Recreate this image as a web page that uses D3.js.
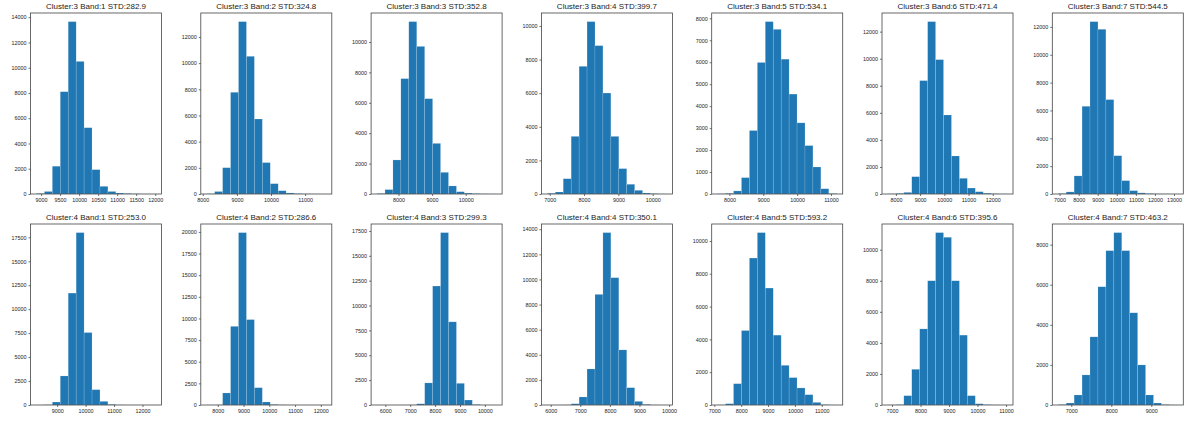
<!DOCTYPE html>
<meta charset="utf-8">
<script src="https://d3js.org/d3.v7.min.js"></script>
<html>
<head>
<style>
body { margin: 0; background: #fff; }
svg { display: block; }
</style>
</head>
<body>
<div id="chart"></div>
<script>

// one histogram per band, 15 bins each
var titles = [
  "Cluster:3 Band:1 STD:282.9", "Cluster:3 Band:2 STD:324.8", "Cluster:3 Band:3 STD:352.8",
  "Cluster:3 Band:4 STD:399.7", "Cluster:3 Band:5 STD:534.1", "Cluster:3 Band:6 STD:471.4",
  "Cluster:3 Band:7 STD:544.5",
  "Cluster:4 Band:1 STD:253.0", "Cluster:4 Band:2 STD:286.6", "Cluster:4 Band:3 STD:299.3",
  "Cluster:4 Band:4 STD:350.1", "Cluster:4 Band:5 STD:593.2", "Cluster:4 Band:6 STD:395.6",
  "Cluster:4 Band:7 STD:463.2"
];

// first and last bin edge
var binLo = [8878, 8116, 7361, 6930, 7653, 7671, 6929, 8271, 7571, 5666, 5887, 7123, 6858, 6674];
var binHi = [12009, 11608, 10907, 10400, 11170, 12590, 13175, 12459, 12196, 10453, 9911, 11557, 11036, 9651];

var counts = [
  [40, 200, 2200, 8100, 13650, 10500, 5250, 1930, 607, 200, 80, 40, 15, 5, 3],
  [15, 190, 2010, 7770, 13170, 10520, 5730, 2400, 790, 250, 80, 30, 10, 5, 3],
  [30, 290, 2240, 7590, 11340, 9710, 6270, 3330, 1425, 530, 150, 60, 25, 8, 3],
  [40, 120, 910, 3430, 7600, 10260, 8830, 6010, 3430, 1510, 580, 220, 60, 20, 5],
  [10, 30, 140, 745, 2890, 5990, 7850, 7500, 6140, 4550, 3240, 2205, 1230, 240, 20],
  [10, 40, 120, 1280, 8380, 12740, 9930, 5840, 2810, 1160, 440, 170, 60, 20, 5],
  [30, 150, 1300, 6300, 12380, 11830, 6780, 2750, 960, 240, 80, 30, 10, 5, 2],
  [5, 20, 310, 3030, 11680, 17990, 7560, 1600, 380, 60, 15, 5, 2, 1, 1],
  [5, 15, 1390, 9090, 19920, 9870, 2000, 350, 60, 15, 5, 2, 1, 1, 1],
  [1, 0, 1, 3, 10, 120, 2220, 11960, 17330, 8360, 2180, 500, 50, 5, 1],
  [1, 3, 10, 100, 640, 2870, 8810, 13730, 10140, 4390, 1380, 290, 50, 8, 1],
  [5, 80, 1300, 4540, 8960, 10510, 7130, 4260, 2420, 1670, 1040, 630, 160, 20, 3],
  [5, 20, 600, 2300, 4900, 8000, 11100, 10800, 8000, 4500, 600, 80, 20, 5, 2],
  [20, 100, 500, 1500, 3400, 5900, 7700, 8600, 7700, 4600, 2000, 500, 100, 20, 5]
];

var xTicks = [
  [9000, 9500, 10000, 10500, 11000, 11500, 12000],
  [8000, 9000, 10000, 11000],
  [8000, 9000, 10000],
  [7000, 8000, 9000, 10000],
  [8000, 9000, 10000, 11000],
  [8000, 9000, 10000, 11000, 12000],
  [7000, 8000, 9000, 10000, 11000, 12000, 13000],
  [9000, 10000, 11000, 12000],
  [8000, 9000, 10000, 11000, 12000],
  [6000, 7000, 8000, 9000, 10000],
  [6000, 7000, 8000, 9000, 10000],
  [7000, 8000, 9000, 10000, 11000],
  [7000, 8000, 9000, 10000, 11000],
  [7000, 8000, 9000]
];

var yTicks = [
  [0, 2000, 4000, 6000, 8000, 10000, 12000, 14000],
  [0, 2000, 4000, 6000, 8000, 10000, 12000],
  [0, 2000, 4000, 6000, 8000, 10000],
  [0, 2000, 4000, 6000, 8000, 10000],
  [0, 1000, 2000, 3000, 4000, 5000, 6000, 7000, 8000],
  [0, 2000, 4000, 6000, 8000, 10000, 12000],
  [0, 2000, 4000, 6000, 8000, 10000, 12000],
  [0, 2500, 5000, 7500, 10000, 12500, 15000, 17500],
  [0, 2500, 5000, 7500, 10000, 12500, 15000, 17500, 20000],
  [0, 2500, 5000, 7500, 10000, 12500, 15000, 17500],
  [0, 2000, 4000, 6000, 8000, 10000, 12000, 14000],
  [0, 2000, 4000, 6000, 8000, 10000],
  [0, 2000, 4000, 6000, 8000, 10000],
  [0, 2000, 4000, 6000, 8000]
];

var W = 1200, H = 423;
var pw = 131, ph = 181;
var rowTop = [13, 224];

var svg = d3.select("#chart").append("svg")
  .attr("width", W).attr("height", H)
  .style("font-family", "'Liberation Sans', Arial, sans-serif");

function drawPanel(i) {
  var col = i % 7, row = Math.floor(i / 7);
  var px = 30.5 + 170.3 * col, py = rowTop[row];
  var lo = binLo[i], hi = binHi[i], c = counts[i];
  var n = c.length, bw = (hi - lo) / n;
  var pad = (hi - lo) * 0.05;

  var x = d3.scaleLinear().domain([lo - pad, hi + pad]).range([0, pw]);
  var y = d3.scaleLinear().domain([0, d3.max(c) * 1.05]).range([ph, 0]);

  var g = svg.append("g").attr("transform", "translate(" + px + "," + py + ")");

  g.selectAll("rect.bar").data(c).enter().append("rect")
    .attr("class", "bar")
    .attr("x", function(d, k) { return x(lo + k * bw); })
    .attr("width", function(d, k) { return x(lo + (k + 1) * bw) - x(lo + k * bw); })
    .attr("y", function(d) { return y(d); })
    .attr("height", function(d) { return ph - y(d); })
    .attr("fill", "#1f77b4")
    .attr("stroke", "rgba(255,255,255,0.3)")
    .attr("stroke-width", 0.5);

  var xa = g.append("g").attr("transform", "translate(0," + ph + ")")
    .call(d3.axisBottom(x).tickValues(xTicks[i]).tickSize(2).tickPadding(2).tickFormat(d3.format("d")));
  var ya = g.append("g")
    .call(d3.axisLeft(y).tickValues(yTicks[i]).tickSize(2).tickPadding(2).tickFormat(d3.format("d")));
  [xa, ya].forEach(function(a) {
    a.select(".domain").remove();
    a.selectAll("line").attr("stroke", "#333").attr("stroke-width", 0.7);
    a.selectAll("text").attr("fill", "#222").style("font-size", "5.4px");
  });

  g.append("rect")
    .attr("width", pw).attr("height", ph)
    .attr("fill", "none").attr("stroke", "#444").attr("stroke-width", 0.8);

  g.append("text")
    .attr("x", pw / 2).attr("y", -4)
    .attr("text-anchor", "middle")
    .style("font-size", "8px").attr("fill", "#222")
    .text(titles[i]);
}

for (var i = 0; i < 14; i++) drawPanel(i);
</script>
</body>
</html>
